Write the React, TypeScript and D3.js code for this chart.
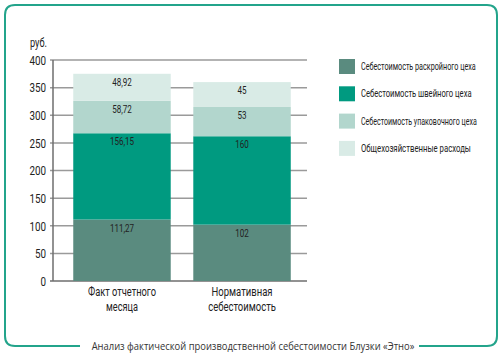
import React, { useLayoutEffect, useRef, useState } from "react";
import * as d3 from "d3";

const categories = ["Факт отчетного|месяца", "Нормативная|себестоимость"];
const seriesNames = [
  "Себестоимость раскройного цеха",
  "Себестоимость швейного цеха",
  "Себестоимость упаковочного цеха",
  "Общехозяйственные расходы",
];
const cutting = [111.27, 102];
const sewing = [156.15, 160];
const packing = [58.72, 53];
const overhead = [48.92, 45];
const labels = [
  ["111,27", "102"],
  ["156,15", "160"],
  ["58,72", "53"],
  ["48,92", "45"],
];
const yTicks = [0, 50, 100, 150, 200, 250, 300, 350, 400];
const colors = ["#5a8b7f", "#009a80", "#b2d6cd", "#d9ebe6"];
const caption = "Анализ фактической производственной себестоимости Блузки «Этно»";

const FONT = "Roboto, 'DejaVu Sans', sans-serif";
const legendWidths = [115, 111, 116, 110];
const catWidths = [[68, 32], [61, 68]];

function CText(props: { x: number; y: number; sx: number; size: number; anchor?: string; children: any }) {
  return (
    <g transform={`translate(${props.x},${props.y}) scale(${props.sx},1)`}>
      <text x={0} y={0} fontSize={props.size} textAnchor={props.anchor || "start"} fill="#222">{props.children}</text>
    </g>
  );
}

function FitText(props: { x: number; y: number; width: number; size: number; anchor?: string; fill?: string; family?: string; children: any }) {
  const ref = useRef<SVGTextElement>(null);
  const [sx, setSx] = useState(1);
  useLayoutEffect(() => {
    if (ref.current) {
      const w = ref.current.getBBox().width;
      if (w > 0) setSx(props.width / w);
    }
  }, [props.width, props.children]);
  return (
    <g transform={`translate(${props.x},${props.y}) scale(${sx},1)`}>
      <text ref={ref} x={0} y={0} fontSize={props.size} textAnchor={props.anchor || "start"}
        fill={props.fill || "#222"} fontFamily={props.family}>{props.children}</text>
    </g>
  );
}

export default function App() {
  const W = 502, H = 355;
  const x0 = 53, x1 = 307;
  const y = d3.scaleLinear().domain([0, 400]).range([281, 60]);
  const x = d3.scaleBand().domain(categories).range([x0, x1]).paddingInner(0.188).paddingOuter(0.152).align(0.555);
  const table = categories.map((c, i) => ({
    cat: c,
    s0: cutting[i], s1: sewing[i], s2: packing[i], s3: overhead[i],
  }));
  const stack = d3.stack<any>().keys(["s0", "s1", "s2", "s3"])(table);

  return (
    <svg width={W} height={H} style={{ display: "block", position: "absolute", left: 0, top: 0 }} fontFamily={FONT}>
      <rect width={W} height={H} fill="#fff" />
      {/* frame */}
      <path
        d={`M80,346 L15,346 Q5,346 5,336 L5,15 Q5,5 15,5 L487,5 Q497,5 497,15 L497,336 Q497,346 487,346 L419,346`}
        fill="none" stroke="#23a48b" strokeWidth={2}
      />
      <FitText x={253} y={350} width={323} size={11.5} anchor="middle" fill="#333" family="'Open Sans', sans-serif">{caption}</FitText>

      {/* grid */}
      {yTicks.map((t) => (
        <g key={t}>
          <line x1={x0 - 3} x2={x1} y1={y(t)} y2={y(t)} stroke={t === 0 ? "#6e6e6e" : "#9a9a9a"} strokeWidth={1.5} />
          <CText x={46} y={y(t) + 4.8} sx={0.73} size={13.5} anchor="end">{t}</CText>
        </g>
      ))}
      <line x1={x0} x2={x0} y1={y(400)} y2={y(0)} stroke="#6e6e6e" strokeWidth={1.5} />
      <FitText x={30} y={47} width={17} size={12.5}>руб.</FitText>

      {/* bars */}
      {stack.map((layer, si) => (
        <g key={si}>
          {layer.map((d, ci) => {
            const bx = x(categories[ci])!;
            return (
              <g key={ci}>
                <rect x={bx} y={y(d[1])} width={x.bandwidth()} height={y(d[0]) - y(d[1])} fill={colors[si]} />
                <CText x={bx + x.bandwidth() / 2} y={y(d[1]) + 12} sx={0.7} size={11.5} anchor="middle">
                  {labels[si][ci]}
                </CText>
              </g>
            );
          })}
        </g>
      ))}

      {/* category labels */}
      {categories.map((c, ci) => {
        const parts = c.split("|");
        const cx = x(c)! + x.bandwidth() / 2;
        return (
          <g key={c}>
            {parts.map((p, i) => (
              <FitText key={i} x={cx} y={296 + i * 14.5} width={catWidths[ci][i]} size={12.5} anchor="middle">{p}</FitText>
            ))}
          </g>
        );
      })}

      {/* legend */}
      {seriesNames.map((n, i) => (
        <g key={n} transform={`translate(339, ${59 + i * 27.3})`}>
          <rect width={16} height={15} fill={colors[i]} />
          <FitText x={22} y={11} width={legendWidths[i]} size={10.5}>{n}</FitText>
        </g>
      ))}
    </svg>
  );
}
